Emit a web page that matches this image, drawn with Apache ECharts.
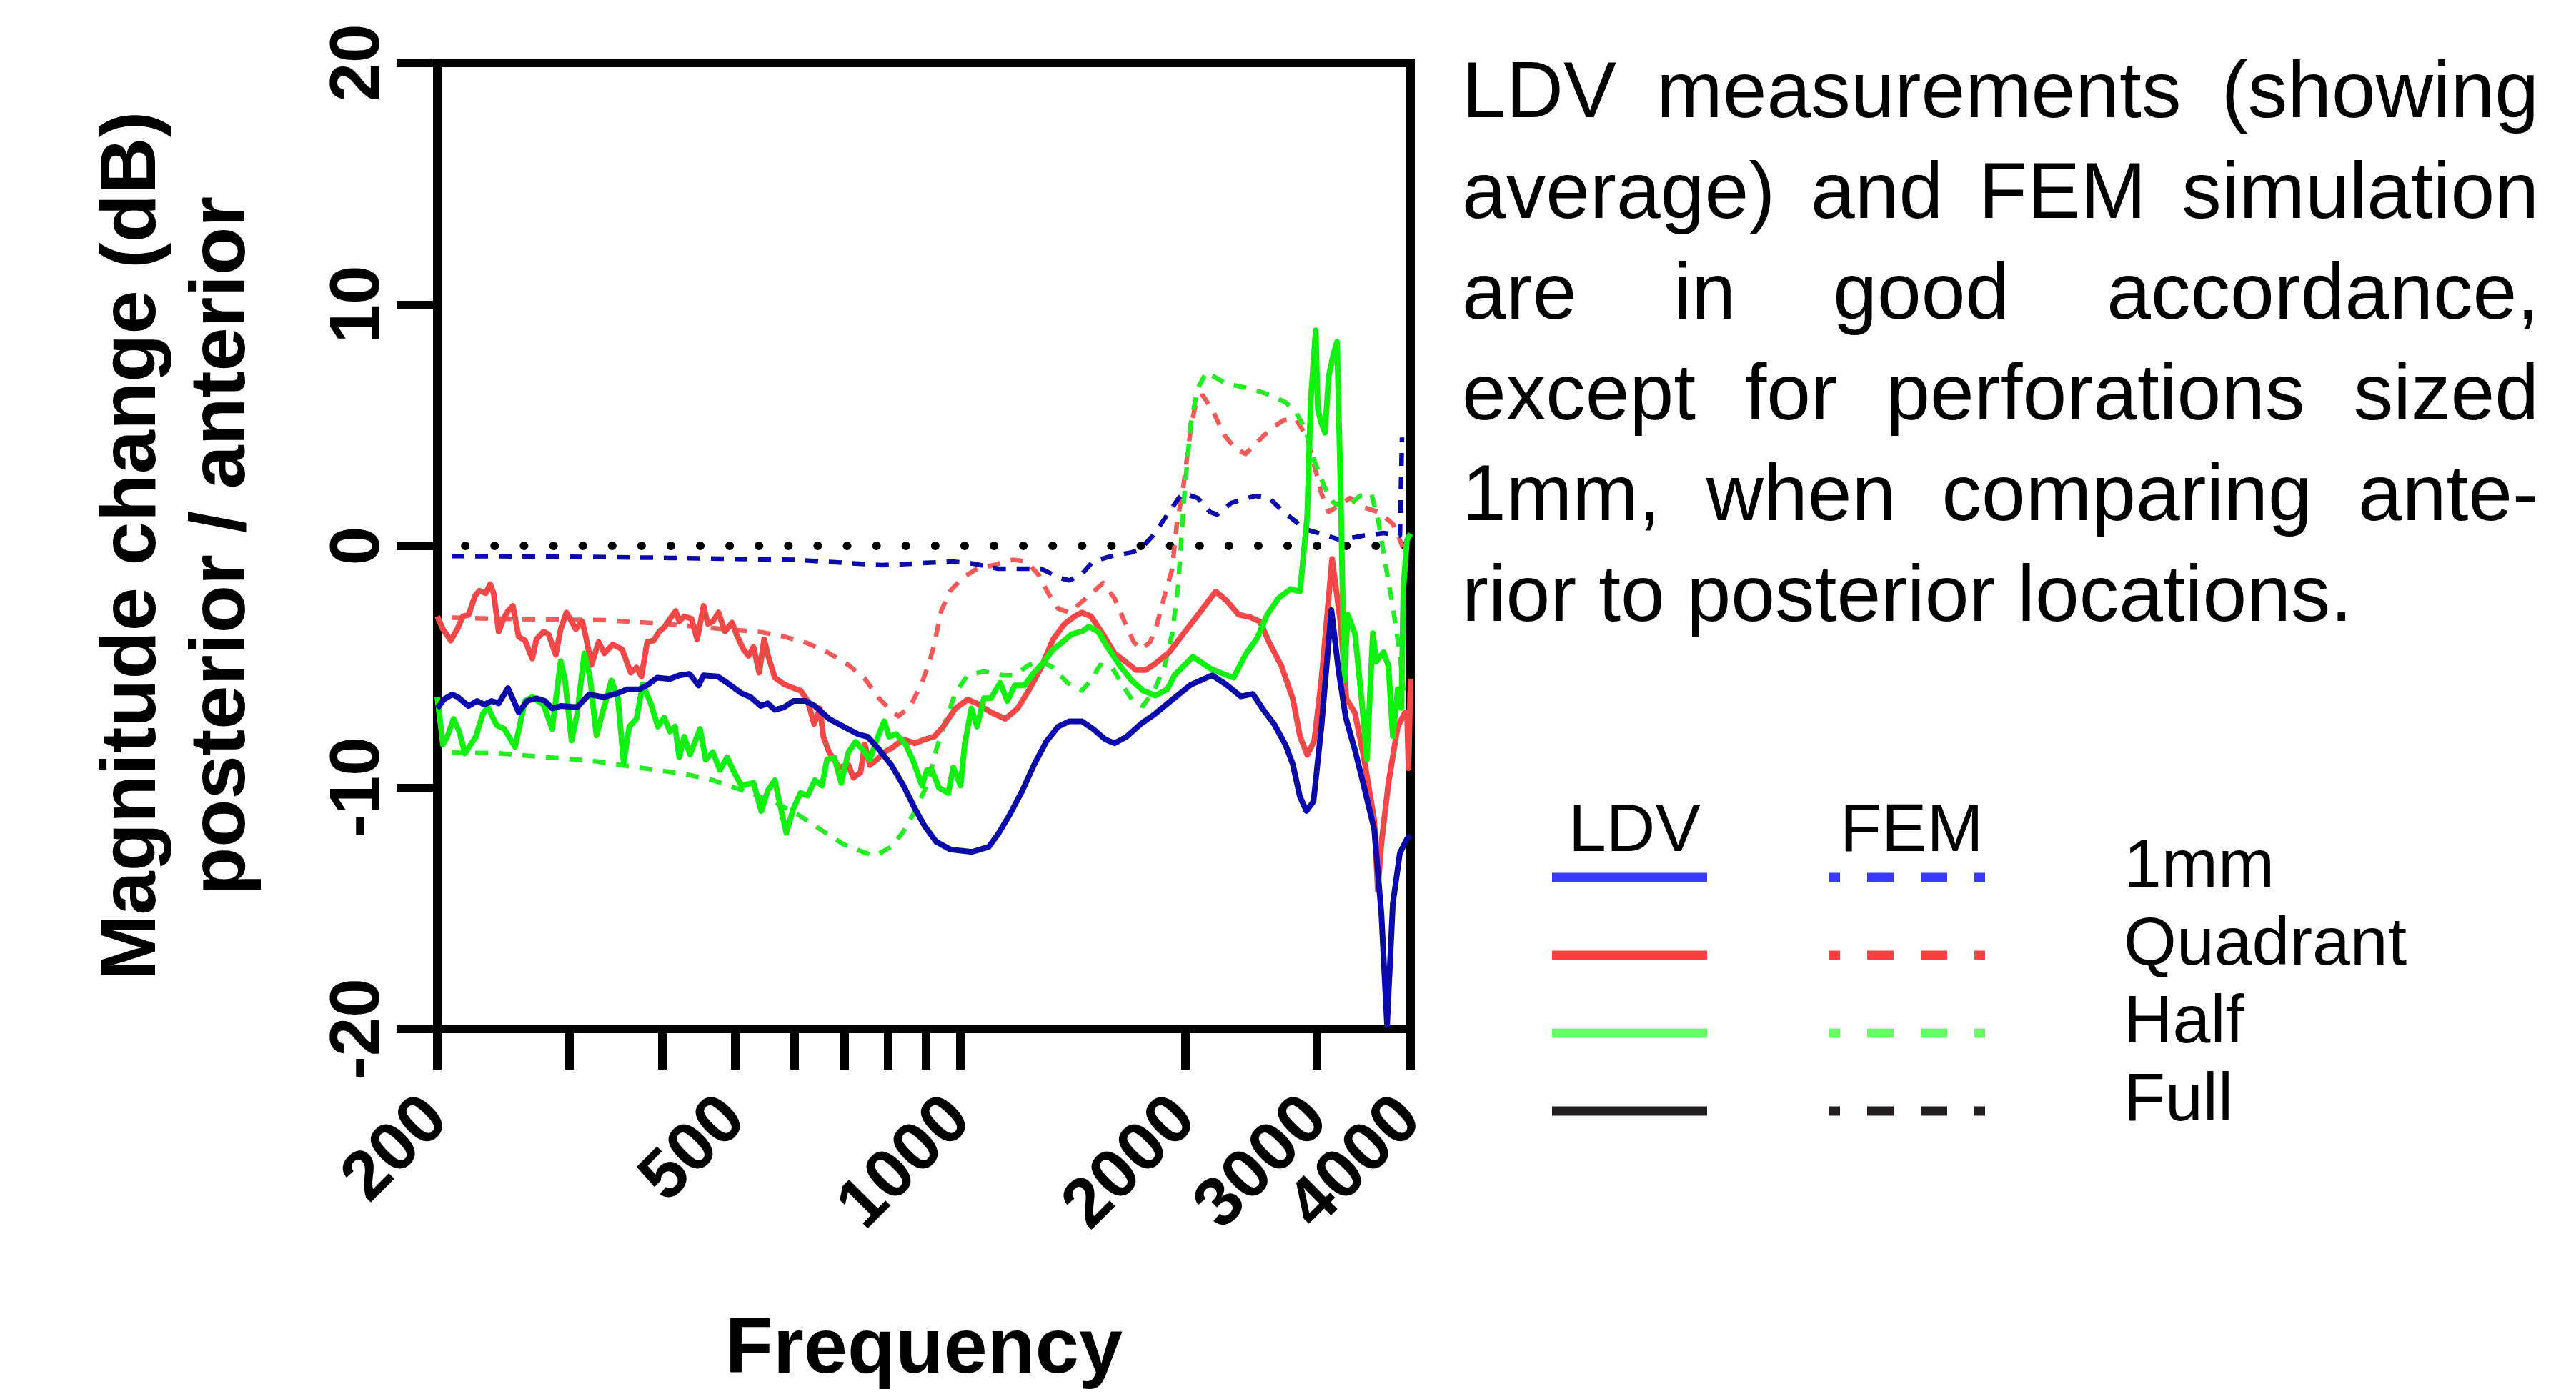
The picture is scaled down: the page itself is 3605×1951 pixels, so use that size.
<!DOCTYPE html>
<html>
<head>
<meta charset="utf-8">
<script src="https://cdn.jsdelivr.net/npm/echarts@6/dist/echarts.min.js"></script>
<style>
html,body{margin:0;padding:0;background:#fff;}
#chart{width:3605px;height:1951px;}
</style>
</head>
<body>
<div id="chart"></div>
<script>
// ---------------- DATA ----------------
const tickFreqs = [200, 300, 400, 500, 600, 700, 800, 900, 1000, 2000, 3000, 4000];
const labelFreqs = [200, 500, 1000, 2000, 3000, 4000];
const dbTicks = [-20, -10, 0, 10, 20];

// LDV 1mm (solid blue)
const ldv1mmFreq = [200, 204, 209.4, 213.1, 220.2, 226.1, 231.2, 236.3, 241.6, 248.6, 253.5, 256.9, 263.8, 271.4, 278.6, 284.8, 292.4, 307.6, 319.3, 333.7, 348.7, 358.8, 372.5, 383.3, 393.5, 409.3, 421.1, 434.6, 447.0, 453.9, 474.2, 491.2, 509.9, 524.6, 541.0, 553.1, 565.3, 581.7, 598.6, 621.3, 639.4, 668.1, 698.1, 729.5, 752.2, 779.2, 808.9, 839.6, 869.7, 896.8, 928.8, 970.4, 1037, 1092, 1124, 1167, 1211, 1255, 1303, 1352, 1400, 1454, 1506, 1563, 1608, 1669, 1744, 1823, 1904, 2034, 2172, 2270, 2372, 2462, 2533, 2630, 2724, 2784, 2846, 2903, 2967, 3040, 3135, 3205, 3276, 3370, 3468, 3577, 3656, 3721, 3787, 3871, 3956, 4000];
const ldv1mmDb = [-6.73, -6.36, -6.15, -6.26, -6.63, -6.42, -6.57, -6.42, -6.52, -5.89, -6.47, -6.89, -6.42, -6.31, -6.42, -6.73, -6.63, -6.68, -6.15, -6.26, -6.10, -5.94, -5.94, -5.73, -5.46, -5.51, -5.36, -5.30, -5.78, -5.36, -5.41, -5.73, -6.10, -6.26, -6.63, -6.52, -6.79, -6.68, -6.42, -6.42, -6.63, -7.16, -7.48, -7.79, -7.90, -8.43, -9.07, -9.92, -10.87, -11.61, -12.25, -12.57, -12.67, -12.46, -11.93, -11.08, -10.13, -9.07, -8.11, -7.48, -7.26, -7.26, -7.58, -8.01, -8.17, -7.90, -7.37, -6.95, -6.47, -5.75, -5.36, -5.75, -6.23, -6.13, -6.71, -7.39, -8.26, -9.04, -10.39, -10.97, -10.58, -7.49, -2.66, -5.17, -7.10, -8.45, -10.0, -11.74, -15.22, -19.85, -14.83, -12.71, -12.13, -12.0];

// LDV Quadrant (solid red)
const ldvQuadFreq = [200, 203.5, 208.4, 212.7, 216.4, 220.2, 224.7, 227.6, 232.2, 235.3, 237.9, 241.6, 245.3, 248.6, 252.4, 256.9, 262.0, 267.9, 271.4, 277.4, 281.7, 288.0, 292.4, 297.6, 302.3, 306.3, 312.4, 315.9, 321.4, 328.6, 334.4, 343.3, 353.3, 362.7, 369.2, 374.9, 381.6, 389.2, 396.0, 403.0, 409.3, 416.6, 421.1, 427.7, 437.3, 445.0, 453.9, 459.9, 467.0, 475.3, 484.8, 495.5, 502.1, 513.3, 521.2, 529.3, 538.7, 547.0, 554.3, 565.3, 581.7, 598.6, 611.9, 625.4, 638.0, 649.3, 656.4, 668.1, 689.0, 708.9, 719.9, 735.9, 745.7, 757.2, 774.0, 791.3, 808.9, 839.6, 869.7, 896.8, 922.8, 949.2, 985.4, 1023, 1053, 1099, 1149, 1193, 1235, 1283, 1331, 1379, 1422, 1454, 1496, 1552, 1608, 1669, 1717, 1771, 1823, 1904, 1990, 2092, 2196, 2270, 2357, 2440, 2517, 2590, 2688, 2784, 2846, 2910, 2974, 3040, 3142, 3226, 3283, 3370, 3468, 3577, 3616, 3656, 3737, 3845, 3930, 3956, 3975, 4000];
const ldvQuadDb = [-2.92, -3.45, -3.92, -3.45, -2.92, -2.86, -2.07, -1.86, -1.96, -1.59, -1.96, -3.55, -3.02, -2.70, -2.49, -3.76, -3.92, -4.67, -3.87, -3.55, -3.66, -4.51, -3.45, -2.76, -3.13, -3.45, -3.13, -3.76, -4.93, -3.98, -4.45, -4.08, -4.29, -5.25, -5.04, -5.41, -3.98, -3.92, -3.55, -3.34, -3.02, -2.70, -3.13, -2.92, -3.02, -3.87, -2.49, -3.23, -3.13, -2.76, -3.55, -3.18, -3.66, -4.29, -4.56, -4.19, -5.25, -3.87, -4.61, -5.46, -5.73, -5.89, -5.99, -6.42, -7.37, -6.73, -7.90, -8.54, -9.17, -9.07, -9.60, -9.38, -8.22, -9.07, -8.85, -8.54, -8.38, -8.01, -8.17, -8.01, -7.90, -7.48, -6.73, -6.36, -6.52, -6.89, -7.16, -6.73, -5.99, -5.04, -3.87, -3.23, -2.92, -2.76, -2.92, -3.66, -4.45, -4.83, -5.14, -5.14, -4.88, -4.40, -3.62, -2.75, -1.89, -2.27, -2.85, -2.95, -3.14, -4.01, -4.97, -6.33, -7.88, -8.65, -8.07, -5.56, -0.54, -3.24, -6.33, -6.91, -8.84, -11.36, -14.25, -12.32, -9.81, -7.49, -6.91, -6.9, -9.2, -5.5];

// LDV Half (solid green)
const ldvHalfFreq = [200, 203.5, 206.2, 210.3, 214.0, 217.8, 225.2, 230.1, 233.7, 240.0, 245.8, 254.1, 262.0, 267.9, 277.4, 284.8, 292.4, 296.3, 302.3, 307.6, 314.5, 320.0, 326.4, 333.7, 341.8, 348.7, 354.9, 361.1, 369.2, 376.5, 385.8, 394.3, 402.1, 409.3, 415.7, 421.1, 427.7, 435.3, 449.0, 456.9, 467.0, 477.5, 488.0, 498.8, 509.9, 529.3, 542.2, 553.1, 565.3, 572.8, 585.6, 598.6, 611.9, 625.4, 639.4, 653.6, 663.7, 678.5, 693.6, 708.9, 724.7, 740.8, 757.2, 774.0, 791.3, 803.6, 821.4, 845.2, 864.0, 889.0, 902.8, 916.6, 937.0, 964.0, 979.0, 1001, 1014, 1035, 1053, 1076, 1099, 1131, 1156, 1183, 1219, 1255, 1292, 1331, 1370, 1409, 1454, 1486, 1529, 1573, 1632, 1695, 1756, 1823, 1892, 1934, 2047, 2158, 2235, 2320, 2408, 2495, 2573, 2664, 2765, 2846, 2910, 2942, 2987, 3007, 3040, 3074, 3108, 3156, 3190, 3226, 3261, 3297, 3370, 3444, 3497, 3561, 3600, 3681, 3737, 3787, 3845, 3888, 3913, 3956, 4000];
const ldvHalfDb = [-6.26, -8.22, -7.90, -7.16, -7.69, -8.59, -7.90, -6.95, -6.68, -7.42, -7.58, -8.32, -6.42, -6.26, -6.57, -7.58, -4.77, -5.57, -8.06, -6.95, -4.45, -5.46, -7.85, -6.73, -5.57, -6.31, -8.96, -7.48, -7.16, -5.73, -6.52, -7.48, -7.11, -7.69, -7.48, -8.75, -7.90, -8.64, -7.58, -8.85, -8.54, -9.28, -8.75, -9.38, -9.92, -9.81, -10.98, -10.13, -9.70, -10.55, -11.88, -10.87, -10.23, -10.34, -9.70, -9.92, -8.85, -8.75, -9.81, -8.54, -8.11, -8.43, -8.85, -8.01, -7.26, -7.90, -7.79, -8.22, -8.85, -9.92, -9.28, -9.28, -10.02, -10.23, -9.17, -9.92, -8.22, -6.73, -7.48, -6.31, -6.31, -5.67, -6.42, -5.78, -5.78, -5.25, -4.83, -4.29, -3.98, -3.66, -3.55, -3.34, -3.55, -4.19, -4.93, -5.57, -5.99, -6.20, -5.94, -5.36, -4.59, -5.07, -5.27, -5.46, -4.49, -3.82, -2.85, -2.17, -1.79, -1.89, 1.20, 6.03, 8.93, 5.65, 5.07, 4.68, 7.0, 7.97, 8.45, 2.17, -5.56, -2.85, -3.62, -6.52, -8.84, -3.62, -4.79, -4.40, -4.98, -7.88, -5.94, -6.71, -1.69, 0.24, 0.5];

// FEM 1mm (dashed blue)
const fem1mmFreq = [209, 301, 409, 604, 786, 923, 970, 1043, 1124, 1283, 1360, 1400, 1454, 1506, 1596, 1695, 1744, 1810, 1875, 1960, 1990, 2078, 2158, 2206, 2305, 2479, 2590, 2706, 2809, 2871, 3087, 3226, 3468, 3681, 3871, 3896];
const fem1mmDb = [-0.42, -0.45, -0.50, -0.58, -0.80, -0.69, -0.64, -0.74, -0.95, -0.95, -1.33, -1.43, -1.17, -0.64, -0.42, -0.27, -0.11, 0.42, 1.11, 1.98, 2.17, 1.98, 1.40, 1.30, 1.78, 2.07, 1.98, 1.40, 1.01, 0.72, 0.43, 0.24, 0.43, 0.53, 0.43, 4.49];

// FEM Quadrant (dashed red)
const femQuadFreq = [209, 242, 336, 403, 485, 541, 582, 625, 664, 709, 746, 779, 809, 827, 858, 889, 909, 923, 943, 970, 1007, 1053, 1107, 1175, 1227, 1274, 1311, 1352, 1400, 1473, 1552, 1608, 1658, 1706, 1744, 1795, 1831, 1875, 1921, 1947, 1990, 2034, 2069, 2111, 2172, 2255, 2336, 2408, 2495, 2607, 2706, 2809, 2910, 2974, 3040, 3108, 3177, 3319, 3468, 3624, 3787, 3871, 3904];
const femQuadDb = [-2.97, -3.02, -3.08, -3.23, -3.45, -3.57, -3.76, -4.03, -4.40, -4.93, -5.51, -6.31, -6.84, -7.05, -6.63, -5.67, -4.83, -4.1, -2.70, -1.86, -1.33, -0.95, -0.80, -0.58, -0.64, -1.22, -1.96, -2.60, -2.76, -2.17, -1.54, -2.17, -3.13, -3.98, -4.29, -3.98, -3.3, -2.1, -0.95, 0.82, 2.56, 4.87, 6.03, 6.23, 5.65, 4.59, 4.01, 3.81, 4.30, 4.87, 5.2, 5.26, 4.49, 3.33, 2.17, 1.40, 1.59, 1.98, 1.59, 1.40, 0.91, 0.24, -0.05];

// FEM Half (dashed green)
const femHalfFreq = [209, 242, 280, 324, 361, 403, 428, 467, 513, 560, 604, 649, 698, 741, 769, 809, 840, 870, 903, 929, 958, 985, 1023, 1076, 1141, 1183, 1235, 1283, 1331, 1391, 1454, 1496, 1539, 1596, 1658, 1706, 1756, 1823, 1875, 1921, 1956, 1977, 1999, 2034, 2078, 2134, 2270, 2440, 2607, 2724, 2809, 2890, 2974, 3067, 3156, 3276, 3423, 3545, 3624, 3704, 3787, 3871, 3913];
const femHalfDb = [-8.56, -8.59, -8.75, -8.91, -9.12, -9.33, -9.44, -9.70, -10.13, -10.55, -11.08, -11.72, -12.35, -12.67, -12.83, -12.46, -11.82, -10.98, -9.9, -8.43, -7.16, -6.10, -5.36, -5.20, -5.36, -5.36, -4.93, -4.77, -5.04, -5.67, -5.99, -5.57, -4.93, -5.04, -5.89, -6.47, -6.63, -5.89, -5.0, -3.62, -1.69, 0.43, 2.56, 5.07, 6.52, 7.19, 6.71, 6.52, 6.23, 5.94, 5.55, 4.87, 3.52, 2.46, 1.78, 1.59, 2.07, 2.17, 1.0, -0.8, -2.5, -4.5, -6.0];

// FEM Full (dotted black)
const femFullFreq = [218, 3960];
const femFullDb = [0, 0];

// Text
const yTitle = 'Magnitude change (dB)\nposterior / anterior';
const xTitle = 'Frequency';
const noteLines = [
  'LDV measurements (showing',
  'average) and FEM simulation',
  'are in good accordance,',
  'except for perforations sized',
  '1mm, when comparing ante-',
  'rior to posterior locations.'
];
const legendHeaders = ['LDV', 'FEM'];
const legendNames = ['1mm', 'Quadrant', 'Half', 'Full'];
const legendColors = ['#3A3AFF', '#FF3F3F', '#66FF66', '#231F20'];

// ---------------- BUILD ----------------
const FONT = 'Liberation Sans';
function zip(f, d) {
  const n = Math.min(f.length, d.length), out = [];
  for (let i = 0; i < n; i++) out.push([f[i], d[i]]);
  return out;
}
const BLUE = '#0A0AAA', RED = '#F24848', GREEN = '#12F012';
const RED_D = '#F45A5A', GREEN_D = '#25EC25';
const dash = [18, 15];

const seriesDefs = [
  { name: 'FEM Full', f: femFullFreq, d: femFullDb, color: '#000', width: 12, type: [0.1, 41], cap: 'round' },
  { name: 'FEM Quadrant', f: femQuadFreq, d: femQuadDb, color: RED_D, width: 6.5, type: dash },
  { name: 'FEM Half', f: femHalfFreq, d: femHalfDb, color: GREEN_D, width: 6.5, type: dash },
  { name: 'FEM 1mm', f: fem1mmFreq, d: fem1mmDb, color: BLUE, width: 6.5, type: dash },
  { name: 'LDV Quadrant', f: ldvQuadFreq, d: ldvQuadDb, color: RED, width: 8, type: 'solid' },
  { name: 'LDV Half', f: ldvHalfFreq, d: ldvHalfDb, color: GREEN, width: 8, type: 'solid' },
  { name: 'LDV 1mm', f: ldv1mmFreq, d: ldv1mmDb, color: BLUE, width: 8, type: 'solid' }
];

const series = seriesDefs.map(s => ({
  name: s.name,
  type: 'line',
  xAxisIndex: 0,
  data: zip(s.f, s.d),
  showSymbol: false,
  symbol: 'none',
  smooth: false,
  animation: false,
  lineStyle: { color: s.color, width: s.width, type: s.type, cap: s.cap || 'butt', join: 'round' },
  emphasis: { disabled: true }
}));

// log-axis extent guard: the end values can round just past the extent
const xMin = tickFreqs[0], xMax = tickFreqs[tickFreqs.length - 1];
const inExtent = v => Math.min(Math.max(v, xMin * (1 + 1e-9)), xMax * (1 - 1e-9));
// split tick labels over two overlaid axes so the rotated neighbours are not auto-hidden
const labelsA = labelFreqs.filter((v, i) => i % 2 === 0).map(inExtent);
const labelsB = labelFreqs.filter((v, i) => i % 2 === 1).map(inExtent);

const labelStyle = {
  rotate: 45, margin: 112, verticalAlign: 'middle',
  showMinLabel: true, showMaxLabel: true, hideOverlap: false,
  fontSize: 97, fontWeight: 'bold', fontFamily: FONT, color: '#000',
  formatter: v => String(Math.round(v))
};

// text helpers
const measureCtx = document.createElement('canvas').getContext('2d');
function measure(str, size, weight) {
  measureCtx.font = (weight || 'normal') + ' ' + size + 'px "' + FONT + '"';
  return measureCtx.measureText(str).width;
}
function textEl(str, x, baseline, size, weight, align) {
  return {
    type: 'text', x: x, y: baseline - 0.347 * size, silent: true,
    style: {
      text: str, fill: '#000', fontSize: size, fontFamily: FONT, fontWeight: weight || 'normal',
      align: align || 'left', verticalAlign: 'middle', textAlign: align || 'left', textVerticalAlign: 'middle'
    }
  };
}

const graphics = [];
// Justified note paragraph
const noteLeft = 2046, noteRight = 3553, noteBase0 = 172, noteStep = 141, noteSize = 111;
noteLines.forEach((line, i) => {
  const base = noteBase0 + i * noteStep;
  const words = line.split(' ');
  if (i === noteLines.length - 1 || words.length < 2) {
    graphics.push(textEl(line, noteLeft, base, noteSize));
    return;
  }
  const widths = words.map(w => measure(w, noteSize));
  const total = widths.reduce((a, b) => a + b, 0);
  const gap = (noteRight - noteLeft - total) / (words.length - 1);
  let x = noteLeft;
  words.forEach((w, k) => {
    graphics.push(textEl(w, x, base, noteSize));
    x += widths[k] + gap;
  });
});

// Legend
const legSize = 95;
graphics.push(textEl(legendHeaders[0], 2195, 1198, legSize));
graphics.push(textEl(legendHeaders[1], 2575, 1198, legSize));
legendNames.forEach((nm, i) => {
  const yc = 1228 + i * 109;
  graphics.push({ type: 'line', silent: true, shape: { x1: 2172, y1: yc, x2: 2389, y2: yc },
    style: { stroke: legendColors[i], lineWidth: 13, lineCap: 'butt' } });
  graphics.push({ type: 'line', silent: true, shape: { x1: 2560, y1: yc, x2: 2778, y2: yc },
    style: { stroke: legendColors[i], lineWidth: 13, lineDash: [37, 38], lineDashOffset: 22, lineCap: 'butt' } });
  graphics.push(textEl(nm, 2972, 1248 + i * 109, legSize));
});

const chart = echarts.init(document.getElementById('chart'), null, { renderer: 'canvas' });
chart.setOption({
  backgroundColor: '#fff',
  animation: false,
  grid: { left: 612, top: 88, width: 1362, height: 1352, show: true, borderColor: '#000', borderWidth: 12, backgroundColor: 'transparent', containLabel: false },
  xAxis: [{
    type: 'log', logBase: 10, min: xMin, max: xMax, position: 'bottom',
    name: xTitle, nameLocation: 'middle', nameGap: 396,
    nameTextStyle: { fontSize: 110, fontWeight: 'bold', fontFamily: FONT, color: '#000' },
    axisLine: { show: true, onZero: false, lineStyle: { color: '#000', width: 12 } },
    axisTick: { show: true, customValues: tickFreqs.map(inExtent), length: 57, inside: false, lineStyle: { color: '#000', width: 12 } },
    minorTick: { show: false },
    axisLabel: Object.assign({ customValues: labelsA }, labelStyle),
    splitLine: { show: false }, minorSplitLine: { show: false }
  }, {
    type: 'log', logBase: 10, min: xMin, max: xMax, position: 'bottom', offset: 0,
    axisLine: { show: false, onZero: false },
    axisTick: { show: false },
    minorTick: { show: false },
    axisLabel: Object.assign({ customValues: labelsB }, labelStyle),
    splitLine: { show: false }, minorSplitLine: { show: false }
  }],
  yAxis: {
    type: 'value', min: dbTicks[0], max: dbTicks[dbTicks.length - 1], interval: dbTicks[1] - dbTicks[0],
    name: yTitle, nameLocation: 'middle', nameGap: 238,
    nameTextStyle: { fontSize: 110, fontWeight: 'bold', fontFamily: FONT, color: '#000', lineHeight: 125 },
    axisLine: { show: true, onZero: false, lineStyle: { color: '#000', width: 12 } },
    axisTick: { show: true, length: 57, lineStyle: { color: '#000', width: 11 } },
    axisLabel: { rotate: 90, margin: 60, fontSize: 98, fontWeight: 'bold', fontFamily: FONT, color: '#000',
      showMinLabel: true, showMaxLabel: true },
    splitLine: { show: false }
  },
  series: series,
  graphic: graphics
});
</script>
</body>
</html>
